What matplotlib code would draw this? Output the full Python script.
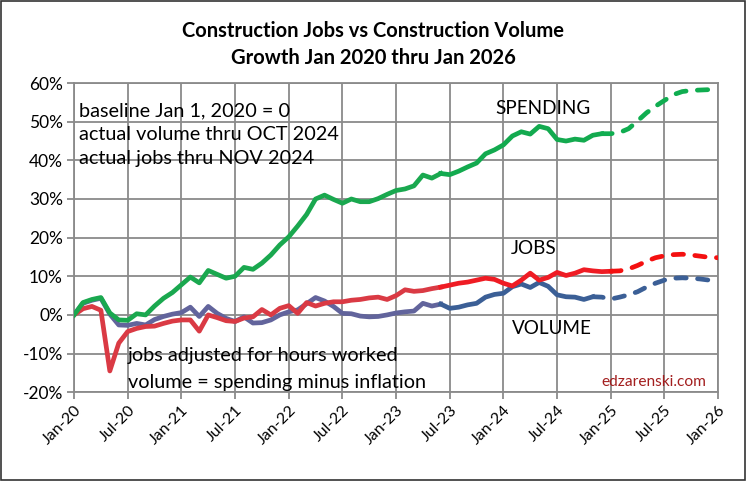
import numpy as np
import matplotlib.pyplot as plt
from matplotlib.patches import Rectangle

plt.rcParams['font.family'] = ['Lato', 'DejaVu Sans']

# monthly values, Jan 2020 (index 0) thru Jan 2026 (index 72), percent growth
spending = [0, 3.2, 4.0, 4.5, 0.5, -1.3, -1.4, 0.3, 0.0, 2.3, 4.3, 5.8, 7.8,
            9.8, 8.3, 11.5, 10.5, 9.5, 10.0, 12.3, 11.8, 13.4, 15.5, 18.1, 20.2,
            23.0, 26.0, 30.0, 31.0, 29.9, 28.9, 30.0, 29.3, 29.3, 30.1, 31.2, 32.2,
            32.6, 33.4, 36.2, 35.4, 36.6, 36.3, 37.2, 38.3, 39.3, 41.7, 42.7, 44.0,
            46.3, 47.4, 46.8, 48.8, 48.2, 45.4, 45.0, 45.5, 45.2, 46.5, 46.9, 46.9,
            47.2, 48.2, 50.2, 52.3, 54.0, 55.5, 57.0, 57.8, 58.1, 58.2, 58.3, 58.3]

jobs = [0, 1.6, 2.2, 1.2, -14.5, -7.3, -4.3, -3.5, -3.0, -2.9, -2.2, -1.6, -1.3,
        -1.3, -4.2, 0.0, -0.7, -1.5, -1.7, -0.8, -0.5, 1.4, 0.0, 1.7, 2.4,
        0.4, 3.2, 2.3, 3.0, 3.4, 3.4, 3.8, 4.0, 4.4, 4.6, 4.0, 5.0,
        6.5, 6.1, 6.3, 6.8, 7.2, 7.7, 8.2, 8.5, 9.0, 9.5, 9.2, 8.2,
        7.5, 9.0, 10.8, 9.0, 9.7, 11.0, 10.2, 10.8, 11.7, 11.4, 11.2, 11.3,
        11.4, 11.9, 12.8, 13.9, 14.8, 15.3, 15.6, 15.7, 15.5, 15.2, 14.9, 14.8]

volume = [0, 3.0, 3.8, 4.3, 0.2, -2.6, -2.7, -2.2, -2.6, -1.2, -0.4, 0.2, 0.6,
          2.0, -0.4, 2.2, 0.4, -0.9, -1.7, -0.5, -2.1, -2.0, -1.3, 0.0, 0.8,
          1.3, 2.9, 4.5, 3.6, 2.2, 0.4, 0.3, -0.3, -0.5, -0.4, 0.0, 0.5,
          0.8, 1.0, 3.0, 2.3, 2.8, 1.7, 2.0, 2.6, 3.0, 4.6, 5.3, 5.6,
          7.3, 8.0, 7.1, 8.4, 7.4, 5.2, 4.7, 4.6, 4.0, 4.7, 4.6, 4.1,
          4.6, 5.2, 6.0, 7.2, 8.2, 9.0, 9.5, 9.6, 9.5, 9.3, 9.0, 8.8]

tick_labels = ["Jan-20", "Jul-20", "Jan-21", "Jul-21", "Jan-22", "Jul-22", "Jan-23",
               "Jul-23", "Jan-24", "Jul-24", "Jan-25", "Jul-25", "Jan-26"]

# last actual (solid) month for each series, rest is forecast (dashed)
SPEND_END = 59
JOBS_END = 60
VOL_END = 58

months = np.arange(len(spending))

fig = plt.figure(figsize=(7.48, 4.83), dpi=100)
ax = fig.add_axes([0.099, 0.188, 0.861, 0.640])

LW = 3.4
DASH = dict(linestyle=(0, (2.2, 2.4)), dash_capstyle='round')


def draw(values, end, col_early, col_late, split, col_fc):
    v = np.array(values)
    ax.plot(months[:split + 1], v[:split + 1], color=col_early, lw=LW,
            solid_joinstyle='round', zorder=3)
    ax.plot(months[split:end + 1], v[split:end + 1], color=col_late, lw=LW,
            solid_joinstyle='round', zorder=3)
    ax.plot(months[end:], v[end:], color=col_fc, lw=LW, zorder=3, **DASH)


draw(volume, VOL_END, '#62649c', '#3b5f96', 41, '#3b5f96')
draw(jobs, JOBS_END, '#da3a44', '#ef1c24', 41, '#f41010')
draw(spending, SPEND_END, '#1aa84f', '#13aa4f', 41, '#10ad50')

ax.set_xlim(0, 72)
ax.set_ylim(-20, 60)
ax.set_xticks(np.arange(0, 73, 6))
ax.set_xticklabels(tick_labels, rotation=45, ha='right', rotation_mode='anchor',
                   fontsize=11.5)
ax.set_yticks(np.arange(-20, 61, 10))
ax.set_yticklabels([f"{v}%" for v in range(-20, 61, 10)], fontsize=12.5)
ax.grid(True, color='#8a8a8a', lw=1.3)
ax.set_axisbelow(True)
for s in ax.spines.values():
    s.set_color('#8a8a8a')
    s.set_linewidth(1.3)
ax.tick_params(axis='both', length=5, color='#8a8a8a', width=1.3, pad=3)

fig.text(0.499, 0.935, "Construction Jobs vs Construction Volume", ha='center',
         va='center', fontsize=14.5, fontweight='bold')
fig.text(0.499, 0.880, "Growth Jan 2020 thru Jan 2026", ha='center',
         va='center', fontsize=14.5, fontweight='bold')

notes = ["baseline Jan 1, 2020 = 0", "actual volume thru OCT 2024",
         "actual jobs thru NOV 2024"]
for i, t in enumerate(notes):
    ax.text(0.6, 52.8 - i * 6.1, t, fontsize=14.3, va='center', ha='left')

ax.text(47.1, 53.3, "SPENDING", fontsize=13.6, va='center', ha='left')
ax.text(48.8, 17.3, "JOBS", fontsize=13.6, va='center', ha='left')
ax.text(49.0, -3.6, "VOLUME", fontsize=13.6, va='center', ha='left')
ax.text(6.0, -10.5, "jobs adjusted for hours worked", fontsize=14.3, va='center')
ax.text(6.0, -17.5, "volume = spending minus inflation", fontsize=14.3, va='center')
ax.text(59.0, -17.3, "edzarenski.com", fontsize=11.2, va='center', color='#a31f1f')

fig.patches.append(Rectangle((0.002, 0.006), 0.994, 0.992, transform=fig.transFigure,
                             fill=False, edgecolor='#333333', lw=1.2))

fig.savefig("out.png", dpi=100)
